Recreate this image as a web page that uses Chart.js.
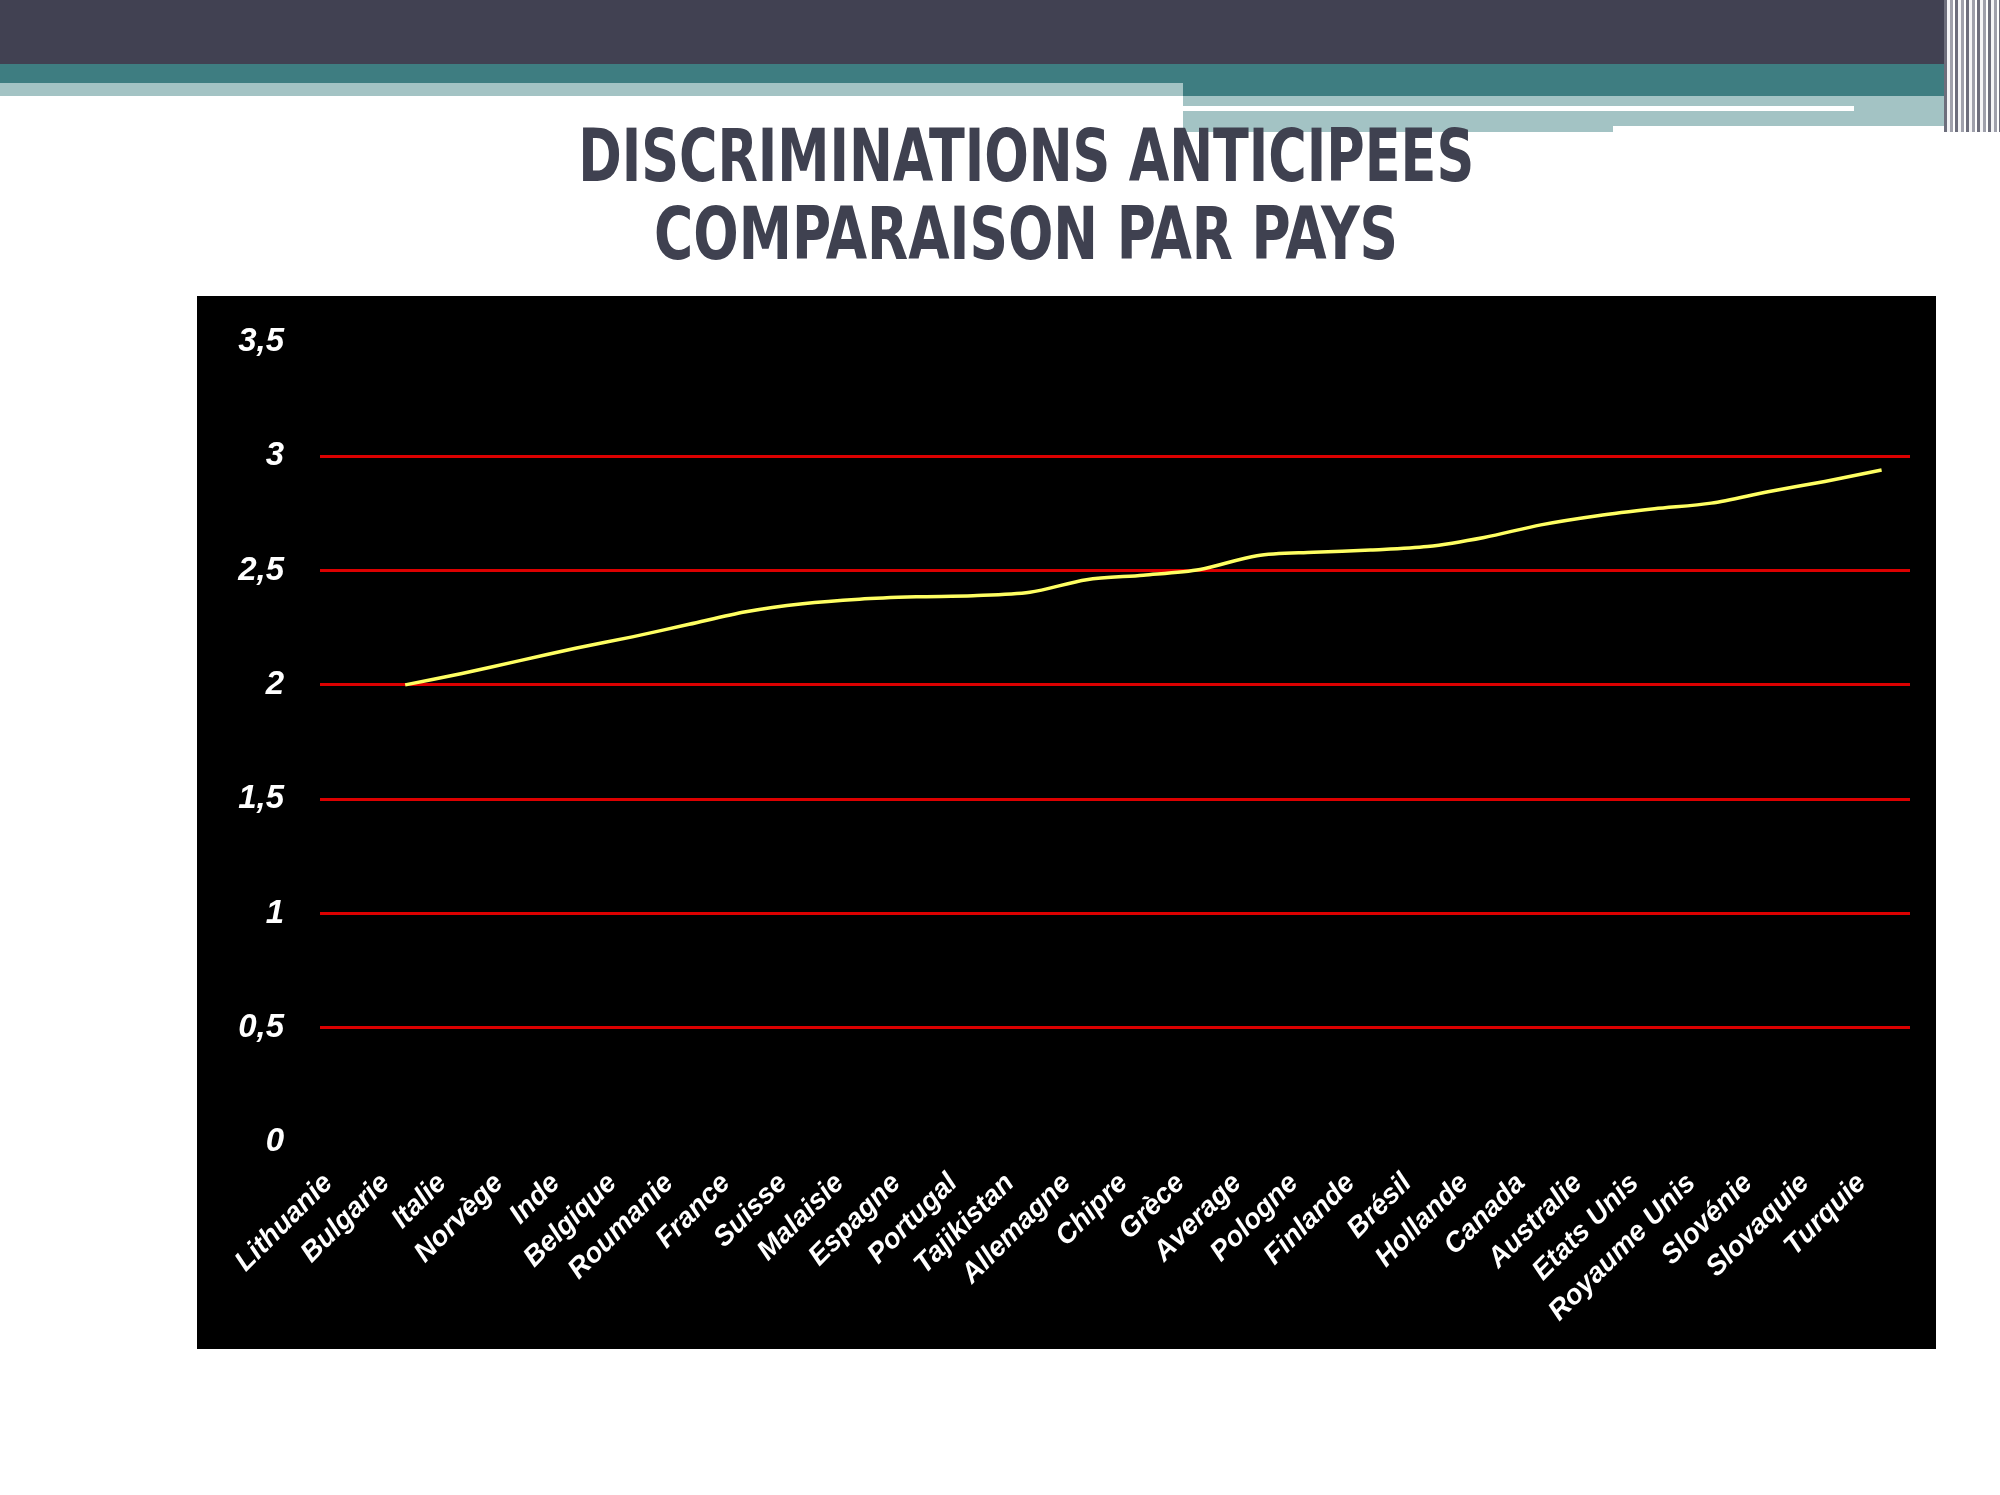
<!DOCTYPE html>
<html lang="fr">
<head>
<meta charset="utf-8">
<title>Discriminations anticipées</title>
<script src="https://cdn.jsdelivr.net/npm/chart.js@4.4.1/dist/chart.umd.min.js"></script>
<style>
  html, body { margin: 0; padding: 0; background: #fff; }
  body { width: 2000px; height: 1495px; position: relative; overflow: hidden; }
  .band { position: absolute; }
  #title {
    position: absolute; left: 26px; width: 2000px; top: 117px;
    text-align: center; color: #3f4150;
    font-family: 'DejaVu Sans Condensed', 'DejaVu Sans', sans-serif;
    font-stretch: condensed; font-weight: bold; font-size: 73px; line-height: 78px;
  }
  #title span { display: inline-block; white-space: nowrap; transform-origin: center; }
  #chart-box { position: absolute; left: 197px; top: 296px; width: 1739px; height: 1053px; background: #000; }
</style>
</head>
<body>
<!-- slide header decoration -->
<div class="band" style="left:0;top:0;width:2000px;height:64px;background:#414152"></div>
<div class="band" style="left:0;top:64px;width:1183px;height:19px;background:#3e7d81"></div>
<div class="band" style="left:0;top:83px;width:1183px;height:13px;background:#a3c3c4"></div>
<div class="band" style="left:1183px;top:64px;width:817px;height:32px;background:#3e7d81"></div>
<div class="band" style="left:1183px;top:96px;width:817px;height:10px;background:#a3c3c4"></div>
<div class="band" style="left:1854px;top:106px;width:146px;height:5px;background:#a3c3c4"></div>
<div class="band" style="left:1183px;top:111px;width:430px;height:21px;background:#a3c3c4"></div>
<div class="band" style="left:1613px;top:111px;width:351px;height:15px;background:#a3c3c4"></div>
<div class="band" style="left:1944px;top:0;width:56px;height:132px;
  background:repeating-linear-gradient(90deg,#6d6e7c 0 3px,#f4f4f6 3px 6px,#9fa0ab 6px 9px,#ffffff 9px 11px)"></div>

<div id="title">
  <span id="t1">DISCRIMINATIONS ANTICIPEES</span><br>
  <span id="t2">COMPARAISON PAR PAYS</span>
</div>

<div id="chart-box"><canvas id="discrim-chart" width="1739" height="1053"></canvas></div>

<script>
// categories (countries) and anticipated discrimination score
const countries = [
  "Lithuanie", "Bulgarie", "Italie", "Norvège", "Inde", "Belgique", "Roumanie",
  "France", "Suisse", "Malaisie", "Espagne", "Portugal", "Tajikistan", "Allemagne",
  "Chipre", "Grèce", "Average", "Pologne", "Finlande", "Brésil", "Hollande",
  "Canada", "Australie", "Etats Unis", "Royaume Unis", "Slovénie", "Slovaquie", "Turquie"
];
const scores = [
  null, 2.00, 2.05, 2.105, 2.16, 2.21, 2.265,
  2.32, 2.355, 2.375, 2.385, 2.39, 2.405, 2.46,
  2.48, 2.505, 2.565, 2.58, 2.59, 2.605, 2.645,
  2.70, 2.74, 2.77, 2.795, 2.845, 2.89, 2.94
];
const yMin = 0;
const yMax = 3.5;
const yStep = 0.5;

// fit the title lines to the width they take on the slide
function fitTitle(id, targetWidth) {
    const el = document.getElementById(id);
    const w = el.getBoundingClientRect().width;
    if (w > 0) el.style.transform = 'scaleX(' + (targetWidth / w) + ')';
}
fitTitle('t1', 896);
fitTitle('t2', 744);

const fontFamily = "'Liberation Sans', Arial, sans-serif";

const ctx = document.getElementById('discrim-chart').getContext('2d');

new Chart(ctx, {
    type: 'line',
    data: {
        labels: countries,
        datasets: [{
            label: 'Discriminations anticipées',
            data: scores,
            borderColor: '#ffff62',
            borderWidth: 3.5,
            pointRadius: 0,
            pointHoverRadius: 0,
            fill: false,
            tension: 0.3,
        }]
    },
    options: {
        responsive: false,
        animation: false,
        layout: {
            padding: { top: 46, right: 26, left: 0, bottom: 0 }
        },
        scales: {
            x: {
                offset: true,
                grid: { display: false },
                border: { display: false },
                ticks: {
                    color: '#fff',
                    font: { family: fontFamily, size: 28, weight: 'bold', style: 'italic' },
                    autoSkip: false,
                    minRotation: 45,
                    maxRotation: 45,
                    padding: 17,
                    labelOffset: -20
                },
                afterFit: (scale) => { scale.height = 207; }
            },
            y: {
                min: yMin,
                max: yMax,
                border: { display: false },
                grid: {
                    drawTicks: false,
                    lineWidth: 3,
                    color: (c) => (c.tick && (c.tick.value === yMin || c.tick.value === yMax)) ? 'rgba(0,0,0,0)' : '#dc0000'
                },
                ticks: {
                    stepSize: yStep,
                    color: '#fff',
                    font: { family: fontFamily, size: 33, weight: 'bold', style: 'italic' },
                    padding: 36,
                    callback: (v) => String(v).replace('.', ',')
                },
                afterFit: (scale) => {
                    // fixed axis width; the label padding should not push the plot down
                    scale.width = 123;
                    scale.paddingTop = 0;
                    scale.paddingBottom = 0;
                }
            }
        },
        plugins: {
            legend: { display: false },
            tooltip: { enabled: false }
        }
    }
});
</script>
</body>
</html>
